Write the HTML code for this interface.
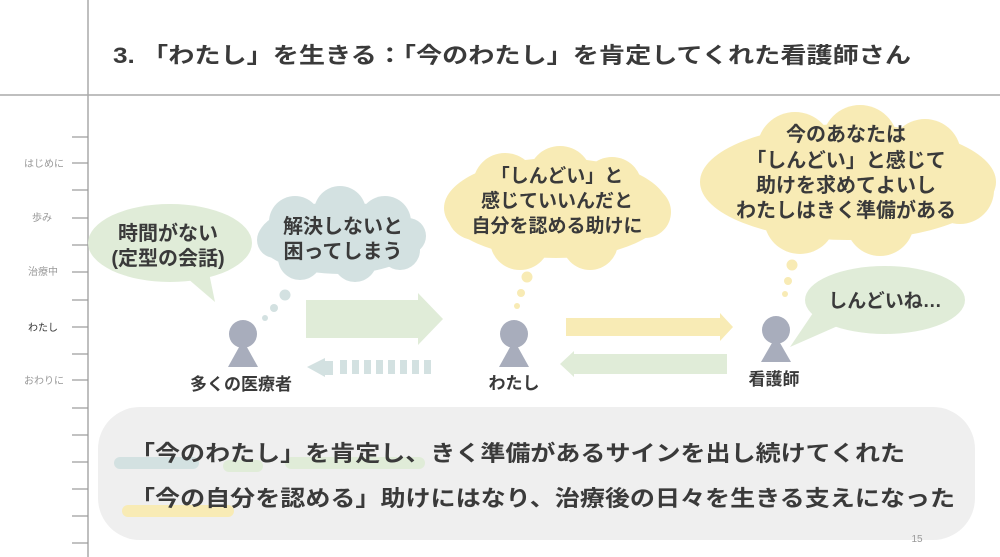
<!DOCTYPE html>
<html><head><meta charset="utf-8"><style>
html,body{margin:0;padding:0;background:#fff;}
svg{display:block;}
text{font-family:"Liberation Sans","Noto Sans CJK JP",sans-serif;}
.b{font-weight:600;fill:#3a3a3a;}
.s{font-size:10px;fill:#999;}
</style></head><body>
<svg width="1000" height="557" viewBox="0 0 1000 557" xmlns="http://www.w3.org/2000/svg">
<rect width="1000" height="557" fill="#fff"/>
<line x1="88" y1="0" x2="88" y2="557" stroke="#aaa" stroke-width="1.5"/>
<line x1="0" y1="95" x2="1000" y2="95" stroke="#aaa" stroke-width="1.5"/>
<text x="113" y="63" class="b" font-size="22" textLength="798" lengthAdjust="spacingAndGlyphs">3.  「わたし」を生きる：「今のわたし」を肯定してくれた看護師さん</text>
<g stroke="#999" stroke-width="1.2">
<line x1="72" y1="137" x2="88" y2="137"/><line x1="72" y1="163" x2="88" y2="163"/>
<line x1="72" y1="190" x2="88" y2="190"/><line x1="72" y1="218" x2="88" y2="218"/>
<line x1="72" y1="245" x2="88" y2="245"/><line x1="72" y1="272" x2="88" y2="272"/>
<line x1="72" y1="300" x2="88" y2="300"/><line x1="72" y1="327" x2="88" y2="327"/>
<line x1="72" y1="354" x2="88" y2="354"/><line x1="72" y1="380" x2="88" y2="380"/>
<line x1="72" y1="408" x2="88" y2="408"/><line x1="72" y1="435" x2="88" y2="435"/>
<line x1="72" y1="462" x2="88" y2="462"/><line x1="72" y1="489" x2="88" y2="489"/>
<line x1="72" y1="516" x2="88" y2="516"/><line x1="72" y1="543" x2="88" y2="543"/>
</g>
<text x="64" y="167" class="s" text-anchor="end">はじめに</text>
<text x="52" y="221" class="s" text-anchor="end">歩み</text>
<text x="58" y="275" class="s" text-anchor="end">治療中</text>
<text x="58" y="331" font-size="10" fill="#333" text-anchor="end">わたし</text>
<text x="64" y="384" class="s" text-anchor="end">おわりに</text>

<ellipse cx="170" cy="243" rx="82" ry="39" fill="#e0ecd8"/>
<polygon points="180,272 215,302 208,268" fill="#e0ecd8"/>
<text x="168" y="240" class="b" font-size="20" text-anchor="middle">時間がない</text>
<text x="168" y="265" class="b" font-size="20" text-anchor="middle">(定型の会話)</text>

<g fill="#d3e1e1">
<ellipse cx="340" cy="238" rx="82" ry="36"/>
<circle cx="295" cy="222" r="26"/><circle cx="340" cy="212" r="26"/><circle cx="385" cy="222" r="26"/>
<circle cx="300" cy="258" r="22"/><circle cx="355" cy="260" r="22"/><circle cx="400" cy="250" r="20"/>
<circle cx="275" cy="240" r="18"/><circle cx="408" cy="236" r="18"/>
<circle cx="285" cy="295" r="5.5"/><circle cx="274" cy="308" r="4"/><circle cx="265" cy="318" r="3"/>
</g>
<text x="343" y="233" class="b" font-size="20" text-anchor="middle">解決しないと</text>
<text x="343" y="258" class="b" font-size="20" text-anchor="middle">困ってしまう</text>

<g fill="#a8adbc">
<circle cx="243" cy="334" r="14"/><polygon points="243,340 228,367 258,367"/>
<circle cx="514" cy="334" r="14"/><polygon points="514,340 499,367 529,367"/>
<circle cx="776" cy="330" r="14"/><polygon points="776,336 761,362 791,362"/>
</g>
<text x="241" y="390" class="b" font-size="17" text-anchor="middle">多くの医療者</text>
<text x="514" y="389" class="b" font-size="17" text-anchor="middle">わたし</text>
<text x="774" y="385" class="b" font-size="17" text-anchor="middle">看護師</text>

<polygon points="306,300 418,300 418,293 443,319 418,345 418,338 306,338" fill="#e0ecd8"/>
<g fill="#d3e1e1">
<polygon points="325,358 325,377 307,367"/>
<rect x="325" y="361" width="8" height="14"/>
<rect x="340" y="360" width="7" height="14"/><rect x="352" y="360" width="7" height="14"/>
<rect x="364" y="360" width="7" height="14"/><rect x="376" y="360" width="7" height="14"/>
<rect x="388" y="360" width="7" height="14"/><rect x="400" y="360" width="7" height="14"/>
<rect x="412" y="360" width="7" height="14"/><rect x="424" y="360" width="7" height="14"/>
</g>
<polygon points="566,318 720,318 720,313 733,327 720,341 720,336 566,336" fill="#f8ebb5"/>
<polygon points="727,354 574,354 574,351 560,364 574,377 574,374 727,374" fill="#e0ecd8"/>

<g fill="#f8ebb5">
<ellipse cx="556" cy="208" rx="112" ry="50"/>
<circle cx="505" cy="185" r="32"/><circle cx="560" cy="178" r="32"/><circle cx="612" cy="187" r="30"/>
<circle cx="475" cy="212" r="28"/><circle cx="645" cy="212" r="26"/>
<circle cx="520" cy="240" r="30"/><circle cx="590" cy="242" r="28"/>
<circle cx="527" cy="277" r="5.5"/><circle cx="521" cy="293" r="4"/><circle cx="517" cy="306" r="3"/>
</g>
<text x="557" y="182" class="b" font-size="19" text-anchor="middle">「しんどい」と</text>
<text x="557" y="207" class="b" font-size="19" text-anchor="middle">感じていいんだと</text>
<text x="557" y="232" class="b" font-size="19" text-anchor="middle">自分を認める助けに</text>

<g fill="#f8ebb5">
<ellipse cx="848" cy="182" rx="148" ry="58"/>
<circle cx="795" cy="150" r="38"/><circle cx="860" cy="143" r="38"/><circle cx="925" cy="155" r="36"/>
<circle cx="742" cy="180" r="34"/><circle cx="960" cy="190" r="34"/>
<circle cx="800" cy="218" r="36"/><circle cx="880" cy="222" r="34"/>
<circle cx="792" cy="265" r="5.5"/><circle cx="788" cy="281" r="4"/><circle cx="785" cy="294" r="3"/>
</g>
<text x="846" y="141" class="b" font-size="20" text-anchor="middle">今のあなたは</text>
<text x="846" y="167" class="b" font-size="20" text-anchor="middle">「しんどい」と感じて</text>
<text x="846" y="192" class="b" font-size="20" text-anchor="middle">助けを求めてよいし</text>
<text x="846" y="217" class="b" font-size="20" text-anchor="middle">わたしはきく準備がある</text>

<ellipse cx="885" cy="300" rx="80" ry="34" fill="#e0ecd8"/>
<polygon points="815,310 790,347 840,325" fill="#e0ecd8"/>
<text x="885" y="307" class="b" font-size="19" text-anchor="middle">しんどいね…</text>

<rect x="98" y="407" width="877" height="133" rx="42" fill="#efefef"/>
<rect x="114" y="457" width="85" height="12" rx="6" fill="#d3e1e1"/>
<rect x="223" y="460" width="40" height="12" rx="6" fill="#e0ecd8"/>
<rect x="285" y="457" width="140" height="12" rx="6" fill="#e0ecd8"/>
<rect x="122" y="505" width="112" height="12" rx="6" fill="#f8ebb5"/>
<text x="130" y="461" class="b" font-size="22" textLength="775" lengthAdjust="spacingAndGlyphs">「今のわたし」を肯定し、きく準備があるサインを出し続けてくれた</text>
<text x="130" y="506" class="b" font-size="22" textLength="825" lengthAdjust="spacingAndGlyphs">「今の自分を認める」助けにはなり、治療後の日々を生きる支えになった</text>
<text x="917" y="542" font-size="10" fill="#999" text-anchor="middle">15</text>
</svg>
</body></html>
